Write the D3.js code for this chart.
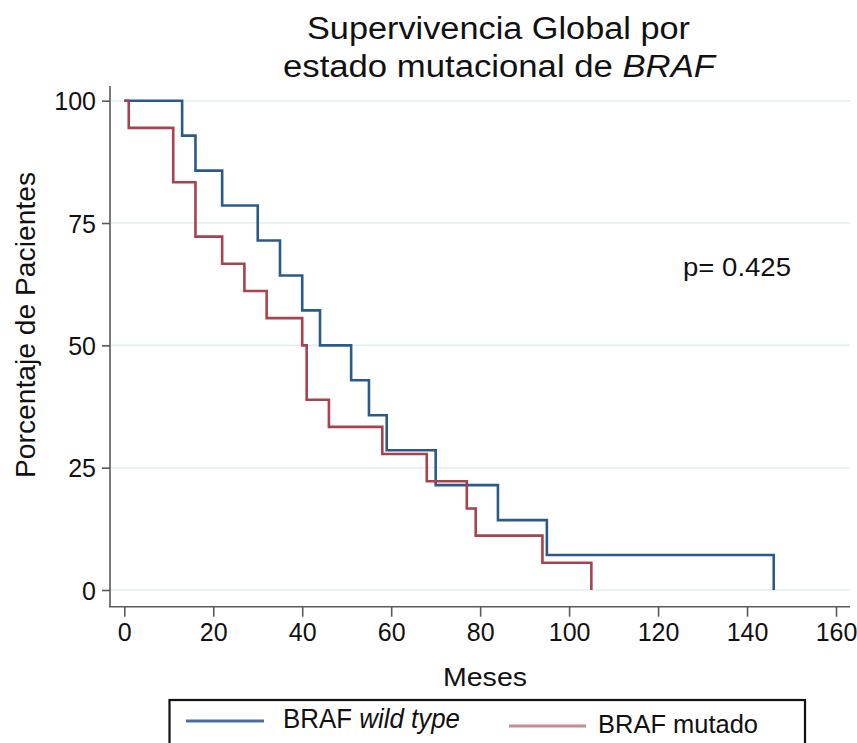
<!DOCTYPE html>
<html><head><meta charset="utf-8">
<script src="https://cdn.jsdelivr.net/npm/d3@7"></script>
<style>html,body{margin:0;padding:0;background:#fff;}svg{display:block;}</style>
</head><body>
<script>
// ---- data ----
const wtTimes = [0,13,16,22,30,35,40,44,51,55,59,70,84,95,146];
const wtSurv  = [100,92.86,85.71,78.57,71.43,64.29,57.14,50,42.86,35.71,28.57,21.43,14.29,7.14,0];
const mutTimes = [0,1,11,16,22,27,32,40,41,46,58,68,77,79,94,105];
const mutSurv  = [100,94.44,83.33,72.22,66.67,61.11,55.56,50,38.89,33.33,27.78,22.22,16.67,11.11,5.56,0];
const xTicks = [0,20,40,60,80,100,120,140,160];
const yTicks = [0,25,50,75,100];
const seriesNames = ["BRAF ", "wild type", "BRAF mutado"];
const titleLines = ["Supervivencia Global por", "estado mutacional de "];
const titleItalic = "BRAF";
const pText = "p= 0.425";

const W = 857, H = 743;
const svg = d3.select("body").append("svg").attr("width", W).attr("height", H);

const x = d3.scaleLinear().domain([0,160]).range([124.3, 836]);
const y = d3.scaleLinear().domain([0,100]).range([590, 100.7]);

const axisColor = "#5a5a5a";
// grid
svg.append("g").selectAll("line").data(yTicks).join("line")
  .attr("x1", 111).attr("x2", 850)
  .attr("y1", d => y(d)).attr("y2", d => y(d))
  .attr("stroke", "#e3eef1").attr("stroke-width", 1.6);

// y axis
const yAxis = d3.axisLeft(y).tickValues(yTicks).tickSize(8).tickPadding(6).tickSizeOuter(0);
const gy = svg.append("g").attr("transform", "translate(110,0)").call(yAxis);
gy.select(".domain").remove();
gy.append("line").attr("x1",0).attr("x2",0).attr("y1",86).attr("y2",607).attr("stroke",axisColor).attr("stroke-width",1.6);
gy.selectAll(".tick line").attr("stroke", axisColor).attr("stroke-width",1.6);
gy.selectAll(".tick text").attr("font-family","Liberation Sans Narrow, Arial Narrow, sans-serif")
  .attr("font-size",25).attr("fill","#111").attr("dy","0.36em");

// x axis
const xAxis = d3.axisBottom(x).tickValues(xTicks).tickSize(10).tickPadding(7).tickSizeOuter(0);
const gx = svg.append("g").attr("transform", "translate(0,606.7)").call(xAxis);
gx.select(".domain").remove();
gx.append("line").attr("x1",109.2).attr("x2",850).attr("y1",0).attr("y2",0).attr("stroke",axisColor).attr("stroke-width",1.6);
gx.selectAll(".tick line").attr("stroke", axisColor).attr("stroke-width",1.6);
gx.selectAll(".tick text").attr("font-family","Liberation Sans Narrow, Arial Narrow, sans-serif")
  .attr("font-size",25).attr("fill","#111");

// curves
const line = d3.line().x(d => x(d[0])).y(d => y(d[1])).curve(d3.curveStepAfter);
const wt = wtTimes.map((t,i) => [t, wtSurv[i]]);
const mut = mutTimes.map((t,i) => [t, mutSurv[i]]);
svg.append("path").attr("d", line(wt)).attr("fill","none").attr("stroke","#2c5a88").attr("stroke-width",2.6);
svg.append("path").attr("d", line(mut)).attr("fill","none").attr("stroke","#a8424c").attr("stroke-width",2.6);

// title
const tf = "Liberation Sans, Arial, sans-serif";
svg.append("text").attr("x", 498.5).attr("y", 39).attr("text-anchor","middle")
  .attr("font-family", tf).attr("font-size", 31).attr("fill","#111")
  .attr("textLength", 383).attr("lengthAdjust","spacingAndGlyphs").text(titleLines[0]);
const t2 = svg.append("text").attr("x", 499).attr("y", 77).attr("text-anchor","middle")
  .attr("font-family", tf).attr("font-size", 31).attr("fill","#111")
  .attr("textLength", 432).attr("lengthAdjust","spacingAndGlyphs");
t2.append("tspan").text(titleLines[1]);
t2.append("tspan").attr("font-style","italic").text(titleItalic);

// y label
svg.append("text").attr("transform","translate(35,325) rotate(-90)").attr("text-anchor","middle")
  .attr("font-family", tf).attr("font-size", 28).attr("fill","#111")
  .attr("textLength", 306).attr("lengthAdjust","spacingAndGlyphs").text("Porcentaje de Pacientes");

// p value
svg.append("text").attr("x", 683).attr("y", 276)
  .attr("font-family", tf).attr("font-size", 25).attr("fill","#111")
  .attr("textLength", 108).attr("lengthAdjust","spacingAndGlyphs").text(pText);

// x label (clipped at bottom)
svg.append("clipPath").attr("id","mclip").append("rect").attr("x",0).attr("y",0).attr("width",W).attr("height",687);
svg.append("text").attr("x", 485).attr("y", 686).attr("text-anchor","middle").attr("clip-path","url(#mclip)")
  .attr("font-family", tf).attr("font-size", 26).attr("fill","#111")
  .attr("textLength", 84).attr("lengthAdjust","spacingAndGlyphs").text("Meses");

// legend
svg.append("rect").attr("x",169.5).attr("y",700).attr("width",635.5).attr("height",80)
  .attr("fill","#fff").attr("stroke","#111").attr("stroke-width",2.2);
svg.append("line").attr("x1",186).attr("x2",264).attr("y1",721).attr("y2",721)
  .attr("stroke","#4a70a0").attr("stroke-width",3.2);
const l1 = svg.append("text").attr("x",283).attr("y",728)
  .attr("font-family","Liberation Sans Narrow, Arial Narrow, sans-serif").attr("font-size",27).attr("fill","#111")
  .attr("textLength",177).attr("lengthAdjust","spacingAndGlyphs");
l1.append("tspan").text(seriesNames[0]);
l1.append("tspan").attr("font-style","italic").text(seriesNames[1]);
svg.append("line").attr("x1",509).attr("x2",586).attr("y1",726).attr("y2",726)
  .attr("stroke","#c98a91").attr("stroke-width",3.2);
svg.append("text").attr("x",598).attr("y",733)
  .attr("font-family", tf).attr("font-size",25).attr("fill","#111")
  .attr("textLength",160).attr("lengthAdjust","spacingAndGlyphs").text(seriesNames[2]);
</script>
</body></html>
